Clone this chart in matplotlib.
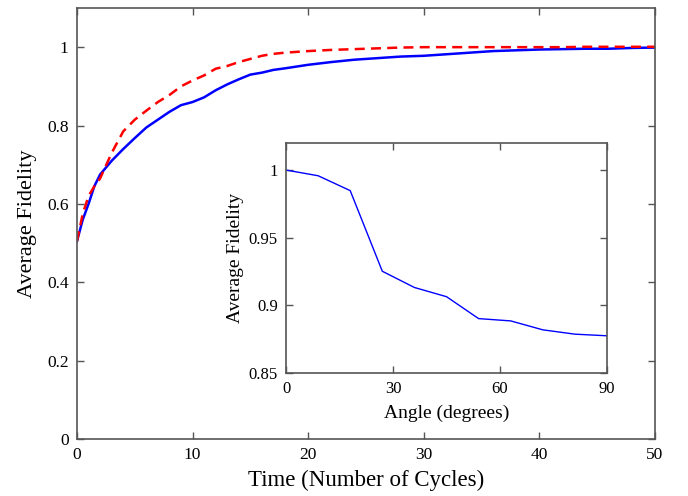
import matplotlib
matplotlib.use("Agg")
import matplotlib.pyplot as plt
from matplotlib.ticker import FuncFormatter

plt.rcParams['font.family'] = ['Liberation Serif', 'DejaVu Serif']

# main plot: average fidelity vs time
time_cycles = [0, 0.5, 1, 1.5, 2, 3, 4, 5, 6, 7, 8, 9, 10, 11, 12, 13, 14, 15,
               16, 17, 18, 20, 22, 24, 26, 28, 30, 32, 34, 36, 38, 40, 42, 44,
               46, 48, 50]
fid_solid = [0.505, 0.56, 0.60, 0.645, 0.675, 0.71, 0.74, 0.768, 0.795, 0.815,
             0.835, 0.852, 0.86, 0.872, 0.89, 0.905, 0.918, 0.93, 0.935, 0.942,
             0.946, 0.955, 0.962, 0.968, 0.972, 0.976, 0.978, 0.982, 0.986,
             0.99, 0.992, 0.994, 0.995, 0.996, 0.996, 0.998, 0.999]
fid_dashed = [0.505, 0.575, 0.62, 0.645, 0.665, 0.73, 0.785, 0.815, 0.838, 0.86,
              0.878, 0.90, 0.915, 0.928, 0.945, 0.952, 0.962, 0.97, 0.978, 0.983,
              0.986, 0.99, 0.993, 0.995, 0.997, 0.999, 1.0, 1.0, 1.0, 1.0, 1.0,
              1.0, 1.0, 1.001, 1.001, 1.001, 1.001]

# inset: average fidelity vs angle
angles = [0, 9, 18, 27, 36, 45, 54, 63, 72, 81, 90]
fid_angle = [1.0, 0.9958, 0.9848, 0.9252, 0.9132, 0.9064, 0.8902, 0.8885,
             0.8819, 0.8787, 0.8775]

main_xticks = [0, 10, 20, 30, 40, 50]
main_yticks = [0, 0.2, 0.4, 0.6, 0.8, 1]
inset_xticks = [0, 30, 60, 90]
inset_yticks = [0.85, 0.9, 0.95, 1]

spine_col = '#555555'


def fmt(v, pos):
    return '%g' % v


def style_axes(ax, size):
    for s in ax.spines.values():
        s.set_color(spine_col)
        s.set_linewidth(1.2)
    ax.tick_params(direction='in', top=True, right=True, length=5,
                   width=1, color=spine_col, labelsize=size, pad=6)
    ax.yaxis.set_major_formatter(FuncFormatter(fmt))
    ax.xaxis.set_major_formatter(FuncFormatter(fmt))


fig = plt.figure(figsize=(6.88, 4.96), dpi=100)

ax = fig.add_axes([0.1119, 0.1149, 0.840, 0.869])
ax.plot(time_cycles, fid_solid, color='#0000ff', lw=1.8)
ax.plot(time_cycles, fid_dashed, color='#ff0000', lw=1.8, ls=(0, (4, 2.5)))
ax.set_xlim(0, 50)
ax.set_ylim(0, 1.1)
ax.set_xticks(main_xticks)
ax.set_yticks(main_yticks)
style_axes(ax, 12.5)
ax.set_xlabel('Time (Number of Cycles)', fontsize=16.5, labelpad=5)
ax.set_ylabel('Average Fidelity', fontsize=16, labelpad=7)

ins = fig.add_axes([0.4157, 0.248, 0.4666, 0.4637])
ins.plot(angles, fid_angle, color='#0000ff', lw=1.0)
ins.set_xlim(0, 90)
ins.set_ylim(0.85, 1.02)
ins.set_xticks(inset_xticks)
ins.set_yticks(inset_yticks)
style_axes(ins, 12)
ins.set_xlabel('Angle (degrees)', fontsize=14, labelpad=5)
ins.set_ylabel('Average Fidelity', fontsize=14, labelpad=3)

fig.savefig('out.png', dpi=100)
